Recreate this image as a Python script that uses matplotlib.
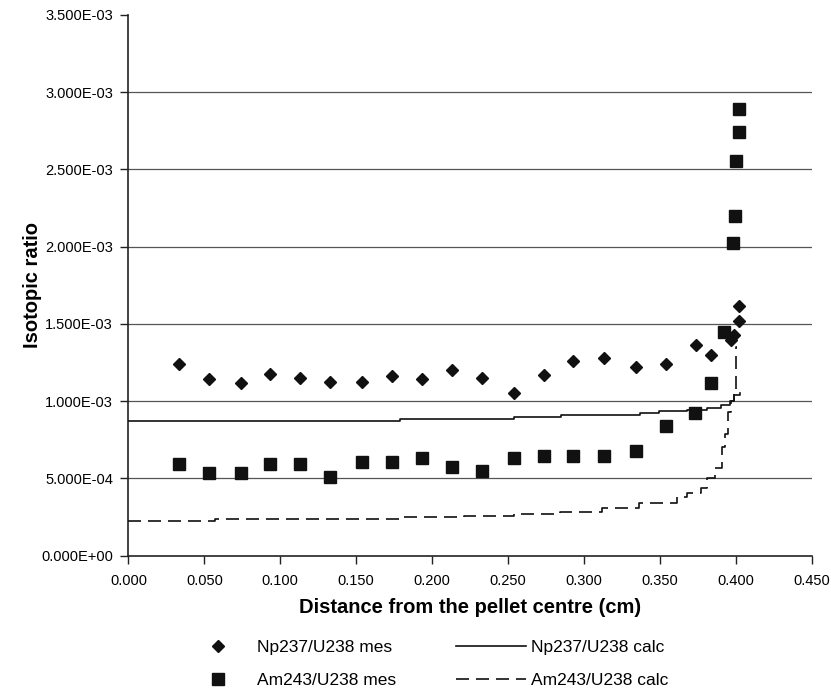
import matplotlib
matplotlib.use("Agg")
import matplotlib.pyplot as plt
from matplotlib.ticker import FuncFormatter
from matplotlib.lines import Line2D

plt.rcParams['font.family'] = ['Liberation Sans', 'DejaVu Sans']

# Measured Np237/U238 (distance cm, ratio x1e-3)
np_mes_x = [0.0335, 0.0530, 0.0739, 0.0934, 0.1133, 0.1330, 0.1540, 0.1734, 0.1930,
            0.2132, 0.2329, 0.2540, 0.2736, 0.2930, 0.3130, 0.3340, 0.3536, 0.3736,
            0.3838, 0.3970, 0.3990, 0.4018, 0.4018]
np_mes_y = [1.237, 1.140, 1.114, 1.174, 1.150, 1.124, 1.124, 1.163, 1.140,
            1.200, 1.150, 1.053, 1.170, 1.260, 1.280, 1.220, 1.237, 1.360,
            1.297, 1.394, 1.426, 1.519, 1.615]

# Measured Am243/U238
am_mes_x = [0.0332, 0.0529, 0.0739, 0.0934, 0.1133, 0.1330, 0.1540, 0.1734, 0.1930,
            0.2132, 0.2329, 0.2540, 0.2736, 0.2930, 0.3130, 0.3340, 0.3540, 0.3730,
            0.3834, 0.3920, 0.3982, 0.3992, 0.4002, 0.4018, 0.4018]
am_mes_y = [0.592, 0.532, 0.532, 0.592, 0.592, 0.508, 0.605, 0.605, 0.629,
            0.570, 0.547, 0.629, 0.642, 0.642, 0.642, 0.676, 0.838, 0.920,
            1.118, 1.448, 2.023, 2.196, 2.552, 2.741, 2.893]

# Calculated profiles (step edges)
np_calc_x = [0.000, 0.179, 0.254, 0.285, 0.337, 0.349, 0.368, 0.381, 0.390, 0.396, 0.399, 0.4025]
np_calc_y = [0.872, 0.883, 0.894, 0.913, 0.924, 0.937, 0.944, 0.955, 0.975, 1.000, 1.038, 1.050]

am_calc_x = [0.000, 0.057, 0.179, 0.221, 0.254, 0.284, 0.312, 0.336, 0.361, 0.368, 0.377,
             0.381, 0.386, 0.391, 0.393, 0.395, 0.397, 0.399, 0.400, 0.4005]
am_calc_y = [0.225, 0.238, 0.247, 0.257, 0.268, 0.281, 0.310, 0.338, 0.380, 0.405, 0.440,
             0.500, 0.564, 0.700, 0.790, 0.930, 1.000, 1.050, 1.350, 1.350]

y_ticks = [0.0, 0.5e-3, 1.0e-3, 1.5e-3, 2.0e-3, 2.5e-3, 3.0e-3, 3.5e-3]
x_ticks = [0.0, 0.05, 0.10, 0.15, 0.20, 0.25, 0.30, 0.35, 0.40, 0.45]

SCALE = 1e-3
INK = '#111111'

fig = plt.figure(figsize=(8.31, 6.97), dpi=100)
ax = fig.add_axes([0.1545, 0.203, 0.8226, 0.7755])

ax.set_xlim(0, 0.45)
ax.set_ylim(0, 3.5e-3)

ax.set_yticks(y_ticks)
ax.set_xticks(x_ticks)
ax.yaxis.set_major_formatter(FuncFormatter(lambda v, p: '{:.3E}'.format(v)))
ax.xaxis.set_major_formatter(FuncFormatter(lambda v, p: '{:.3f}'.format(v)))

# horizontal gridlines (none at the top limit)
for yv in y_ticks[1:-1]:
    ax.axhline(yv, color='#555555', linewidth=0.9, zorder=1)

for s in ['top', 'right']:
    ax.spines[s].set_visible(False)
for s in ['left', 'bottom']:
    ax.spines[s].set_color('#222222')
    ax.spines[s].set_linewidth(1.2)

ax.tick_params(axis='both', direction='out', length=6, width=1, colors='#222222',
               labelsize=10.5, labelcolor='black')
ax.tick_params(axis='x', pad=7)
ax.tick_params(axis='y', pad=5)

ax.plot(np_calc_x, [v * SCALE for v in np_calc_y], drawstyle='steps-post',
        color=INK, lw=1.2, zorder=3)
ax.plot(am_calc_x, [v * SCALE for v in am_calc_y], drawstyle='steps-post',
        color=INK, lw=1.2, dashes=(7.8, 4.2), zorder=3)

ax.plot(np_mes_x, [v * SCALE for v in np_mes_y], linestyle='none', marker='D',
        ms=6.3, color=INK, zorder=4)
ax.plot(am_mes_x, [v * SCALE for v in am_mes_y], linestyle='none', marker='s',
        ms=9.2, color=INK, zorder=4)

ax.set_xlabel('Distance from the pellet centre (cm)', fontsize=14.5, fontweight='bold')
ax.set_ylabel('Isotopic ratio', fontsize=14.5, fontweight='bold')
ax.xaxis.set_label_coords(0.5, -0.0953)
ax.yaxis.set_label_coords(-0.1405, 0.5)
ax.xaxis.label.set_va('center')
ax.yaxis.label.set_va('center')

handles = [
    Line2D([], [], linestyle='none', marker='D', ms=6.3, color=INK),
    Line2D([], [], linestyle='none', marker='s', ms=9.2, color=INK),
    Line2D([], [], color=INK, lw=1.2),
    Line2D([], [], color=INK, lw=1.2, dashes=(7.8, 4.2)),
]
labels = ['Np237/U238 mes', 'Am243/U238 mes', 'Np237/U238 calc', 'Am243/U238 calc']
fig.legend(handles, labels, ncol=2, frameon=False, loc='upper left',
           bbox_to_anchor=(183 / 831, 1 - 640 / 697), borderpad=0, borderaxespad=0,
           handlelength=4.03, handletextpad=0.25, labelspacing=1.0, columnspacing=3.45,
           fontsize=12.5)

fig.savefig('out.png', dpi=100)
